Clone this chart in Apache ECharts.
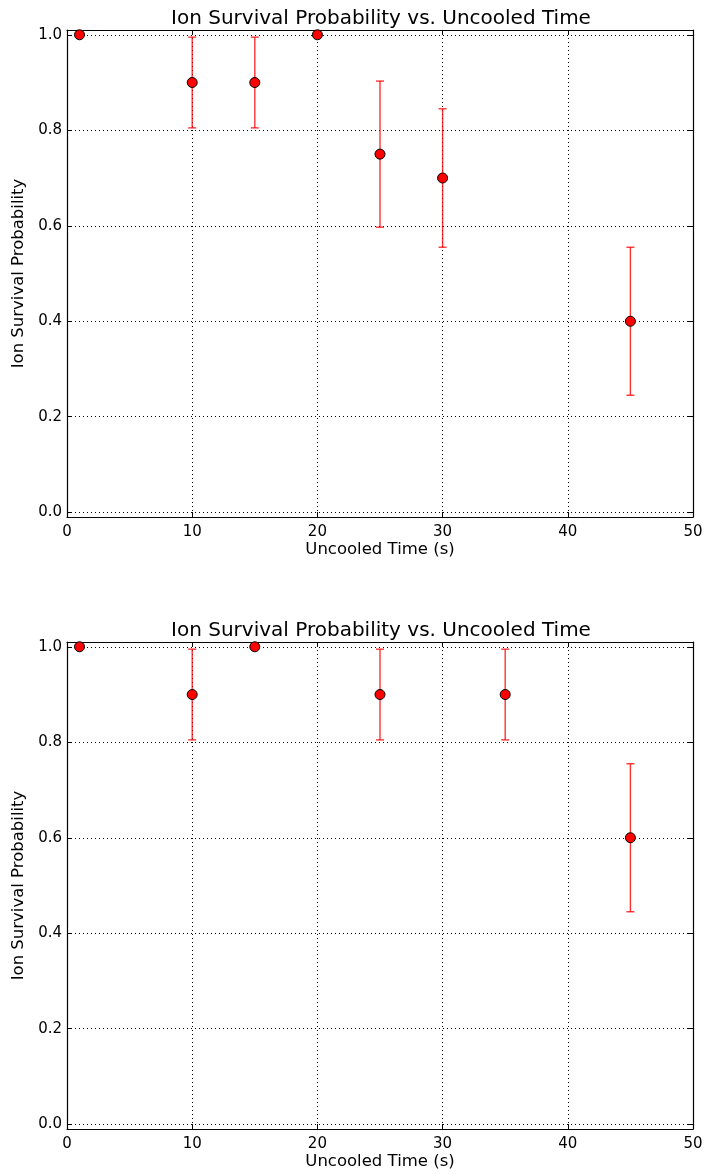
<!DOCTYPE html>
<html><head><meta charset="utf-8">
<script src="https://cdn.jsdelivr.net/npm/echarts@6/dist/echarts.min.js"></script>
<style>html,body{margin:0;padding:0;background:#fff}#c{width:707px;height:1174px}</style>
</head><body><div id="c"></div>
<script>
const titleText = 'Ion Survival Probability vs. Uncooled Time';
const xName = 'Uncooled Time (s)';
const yName = 'Ion Survival Probability';
const yTicks = [0, 0.2, 0.4, 0.6, 0.8, 1.0];
// top panel
const x1 = [1, 10, 15, 20, 25, 30, 45];
const y1 = [1.0, 0.9, 0.9, 1.0, 0.75, 0.7, 0.4];
const lo1 = [1.0, 0.805, 0.805, 1.0, 0.597, 0.555, 0.245];
const hi1 = [1.0, 0.995, 0.995, 1.0, 0.903, 0.845, 0.555];
// bottom panel
const x2 = [1, 10, 15, 25, 35, 45];
const y2 = [1.0, 0.9, 1.0, 0.9, 0.9, 0.6];
const lo2 = [1.0, 0.805, 1.0, 0.805, 0.805, 0.445];
const hi2 = [1.0, 0.995, 1.0, 0.995, 0.995, 0.755];

const FONT = "'DejaVu Sans', sans-serif";
const chart = echarts.init(document.getElementById('c'), null, {renderer: 'canvas'});

function xAx(gi, pos, labels) {
  return {
    type: 'value', gridIndex: gi, position: pos, min: 0, max: 50, interval: 10,
    name: labels ? xName : '', nameLocation: 'middle', nameGap: 23,
    nameTextStyle: {fontFamily: FONT, fontSize: 16.5, color: '#000'},
    axisLine: {show: true, onZero: false, lineStyle: {color: '#000', width: 1.2}},
    axisTick: {show: true, inside: true, length: 5, lineStyle: {color: '#000'}},
    axisLabel: {show: labels, fontFamily: FONT, fontSize: 15, color: '#000', margin: 8},
    splitLine: {show: labels, lineStyle: {color: '#000', type: [1, 3], width: 1}}
  };
}
function yAx(gi, pos, labels) {
  return {
    type: 'value', gridIndex: gi, position: pos, min: -0.01, max: 1.01, splitNumber: 5,
    name: labels ? yName : '', nameLocation: 'middle', nameGap: 37,
    nameTextStyle: {fontFamily: FONT, fontSize: 16.5, color: '#000'},
    axisLine: {show: true, onZero: false, lineStyle: {color: '#000', width: 1.2}},
    axisTick: {show: true, inside: true, length: 5, lineStyle: {color: '#000'},
      customValues: yTicks},
    axisLabel: {show: labels, fontFamily: FONT, fontSize: 15, color: '#000', margin: 5,
      customValues: yTicks,
      formatter: v => v.toFixed(1)},
    splitLine: {show: labels, lineStyle: {color: '#000', type: [1, 3], width: 1}}
  };
}
function errSeries(xi, yi, xs, lo, hi) {
  const data = xs.map((x, i) => [x, lo[i], hi[i]]);
  return {
    type: 'custom', xAxisIndex: xi, yAxisIndex: yi, data: data, z: 2, clip: false,
    renderItem: function (params, api) {
      const x = api.value(0);
      const pLo = api.coord([x, api.value(1)]);
      const pHi = api.coord([x, api.value(2)]);
      const cw = 4;
      const st = {stroke: 'rgba(255,0,0,0.8)', lineWidth: 1.4};
      return {type: 'group', children: [
        {type: 'line', shape: {x1: pLo[0], y1: pLo[1], x2: pHi[0], y2: pHi[1]}, style: st},
        {type: 'line', shape: {x1: pLo[0] - cw, y1: pLo[1], x2: pLo[0] + cw, y2: pLo[1]}, style: st},
        {type: 'line', shape: {x1: pHi[0] - cw, y1: pHi[1], x2: pHi[0] + cw, y2: pHi[1]}, style: st}
      ]};
    }
  };
}
function ptSeries(xi, yi, xs, ys) {
  return {
    type: 'scatter', xAxisIndex: xi, yAxisIndex: yi, z: 3, clip: false,
    data: xs.map((x, i) => [x, ys[i]]), symbol: 'circle', symbolSize: 10,
    itemStyle: {color: '#ff0000', borderColor: '#000', borderWidth: 1, opacity: 1},
    emphasis: {disabled: true}
  };
}

chart.setOption({
  animation: false,
  backgroundColor: '#fff',
  title: [
    {text: titleText, left: 376, top: 4, textAlign: 'center',
      textStyle: {fontFamily: FONT, fontSize: 20, fontWeight: 'normal', color: '#000'}},
    {text: titleText, left: 376, top: 616, textAlign: 'center',
      textStyle: {fontFamily: FONT, fontSize: 20, fontWeight: 'normal', color: '#000'}}
  ],
  grid: [
    {left: 67, right: 14, top: 30, height: 487},
    {left: 67, right: 14, top: 642, height: 487}
  ],
  xAxis: [xAx(0, 'bottom', true), xAx(0, 'top', false), xAx(1, 'bottom', true), xAx(1, 'top', false)],
  yAxis: [yAx(0, 'left', true), yAx(0, 'right', false), yAx(1, 'left', true), yAx(1, 'right', false)],
  series: [
    errSeries(0, 0, x1, lo1, hi1),
    ptSeries(0, 0, x1, y1),
    errSeries(2, 2, x2, lo2, hi2),
    ptSeries(2, 2, x2, y2)
  ]
});
</script></body></html>
